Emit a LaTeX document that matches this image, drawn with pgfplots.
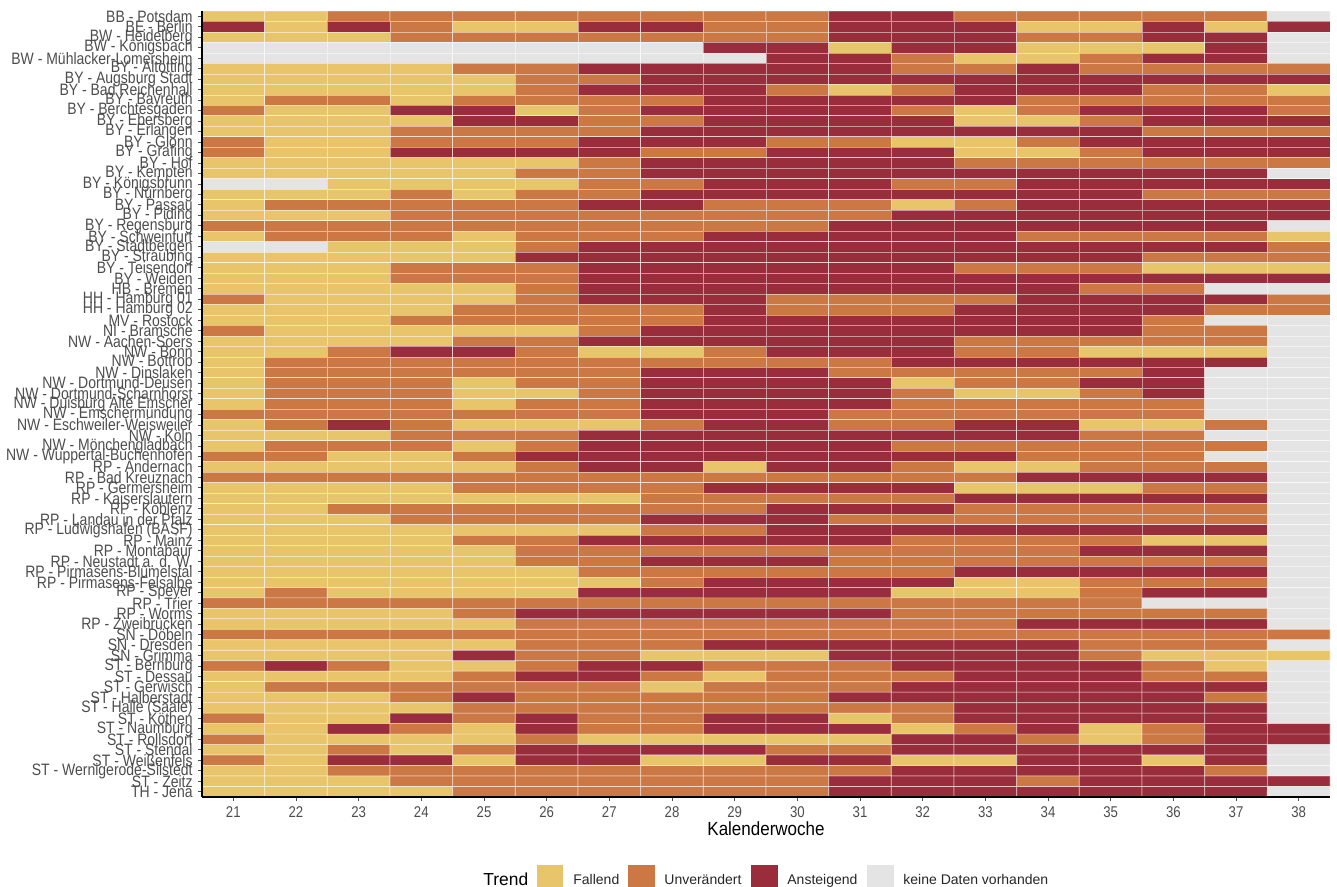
\documentclass[border=0pt]{standalone}
\usepackage{fontspec}
\setmainfont{Liberation Sans}
\usepackage{pgfplots}
\pgfplotsset{compat=1.18}

\definecolor{keine}{RGB}{228,228,228}
\definecolor{fallend}{RGB}{232,197,106}
\definecolor{unveraendert}{RGB}{204,120,68}
\definecolor{ansteigend}{RGB}{154,45,60}
\definecolor{ticktext}{RGB}{77,77,77}

\begin{document}
\begin{tikzpicture}[x=1pt,y=1pt]
\useasboundingbox (-101,-45) rectangle (567.5,398.5);
\begin{axis}[
	at={(0,0)},anchor=south west,
	scale only axis,width=564pt,height=393pt,
	xmin=20.5,xmax=38.5,ymin=0.5,ymax=75.5,
	y dir=reverse,
	axis x line*=bottom,axis y line*=left,
	axis line style={-,black,line width=0.7pt},
	axis on top,
	tick align=outside,major tick length=2pt,
	tick style={ticktext,line width=0.4pt},
	xtick={21,22,...,38},
	ytick={1,2,...,75},
	/pgf/number format/assume math mode=true,
	tick label style={font=\fontsize{6.6}{6.6}\selectfont,text=ticktext},
	yticklabel style={font=\fontsize{7}{7}\selectfont,text=ticktext,inner sep=0pt,xshift=-2.5pt,yscale=1.18,transform shape},
	xticklabel style={inner sep=0pt,yshift=-2.5pt,yscale=1.18,transform shape},
	xlabel={Kalenderwoche},
	xlabel style={font=\fontsize{8.5}{8.5}\selectfont,at={(axis description cs:0.5,0)},anchor=center,yshift=-16pt,yscale=1.12,transform shape},
	yticklabels={BB - Potsdam,BE - Berlin,BW - Heidelberg,BW - Königsbach,BW - Mühlacker-Lomersheim,BY - Altötting,BY - Augsburg Stadt,BY - Bad Reichenhall,BY - Bayreuth,BY - Berchtesgaden,BY - Ebersberg,BY - Erlangen,BY - Glonn,BY - Grafing,BY - Hof,BY - Kempten,BY - Königsbrunn,BY - Nürnberg,BY - Passau,BY - Piding,BY - Regensburg,BY - Schweinfurt,BY - Stadtbergen,BY - Straubing,BY - Teisendorf,BY - Weiden,HB - Bremen,HH - Hamburg 01,HH - Hamburg 02,MV - Rostock,NI - Bramsche,NW - Aachen-Soers,NW - Bonn,NW - Bottrop,NW - Dinslaken,NW - Dortmund-Deusen,NW - Dortmund-Scharnhorst,NW - Duisburg Alte Emscher,NW - Emschermündung,NW - Eschweiler-Weisweiler,NW - Köln,NW - Mönchengladbach,NW - Wuppertal-Buchenhofen,RP - Andernach,RP - Bad Kreuznach,RP - Germersheim,RP - Kaiserslautern,RP - Koblenz,RP - Landau in der Pfalz,RP - Ludwigshafen (BASF),RP - Mainz,RP - Montabaur,RP - Neustadt a. d. W.,RP - Pirmasens-Blümelstal,RP - Pirmasens-Felsalbe,RP - Speyer,RP - Trier,RP - Worms,RP - Zweibrücken,SN - Döbeln,SN - Dresden,SN - Grimma,ST - Bernburg,ST - Dessau,ST - Gerwisch,ST - Halberstadt,ST - Halle (Saale),ST - Köthen,ST - Naumburg,ST - Rollsdorf,ST - Stendal,ST - Weißenfels,ST - Wernigerode-Silstedt,ST - Zeitz,TH - Jena},
	colormap={trend}{color=(keine) color=(fallend) color=(unveraendert) color=(ansteigend)},
	colormap access=direct,
]
% 0 keine Daten, 1 fallend, 2 unveraendert, 3 ansteigend; one line per station, KW 21 to 38
\addplot[matrix plot*,mesh/cols=18,point meta=explicit,draw=white,draw opacity=0.5,line width=0.35pt]
table[x expr={21+mod(\coordindex,18)},y expr={1+floor((\coordindex+0.5)/18)},meta index=0,header=false,row sep=\\] {
1\\1\\2\\2\\2\\2\\2\\2\\2\\2\\3\\3\\2\\2\\2\\2\\2\\0\\
3\\1\\3\\2\\1\\1\\3\\3\\2\\2\\3\\3\\3\\1\\1\\3\\1\\3\\
1\\1\\1\\2\\2\\2\\2\\2\\2\\2\\3\\3\\3\\2\\2\\3\\3\\0\\
0\\0\\0\\0\\0\\0\\0\\0\\3\\3\\1\\3\\3\\1\\1\\1\\3\\0\\
0\\0\\0\\0\\0\\0\\0\\0\\0\\3\\3\\2\\1\\1\\2\\3\\3\\0\\
1\\1\\1\\1\\2\\2\\3\\3\\3\\3\\3\\2\\2\\3\\2\\2\\2\\2\\
1\\1\\1\\1\\1\\2\\2\\3\\3\\3\\3\\3\\3\\3\\3\\3\\3\\3\\
1\\1\\1\\1\\1\\2\\3\\3\\3\\2\\1\\2\\3\\3\\3\\2\\2\\1\\
1\\2\\2\\1\\2\\2\\2\\2\\3\\3\\3\\3\\3\\2\\2\\2\\2\\2\\
2\\1\\1\\3\\3\\1\\2\\3\\3\\3\\3\\2\\1\\2\\3\\3\\3\\2\\
1\\1\\1\\1\\3\\3\\2\\2\\3\\3\\3\\3\\1\\1\\2\\3\\3\\3\\
1\\1\\1\\2\\2\\2\\2\\3\\3\\3\\3\\3\\3\\3\\3\\2\\2\\2\\
2\\1\\1\\2\\2\\2\\3\\3\\3\\2\\2\\1\\1\\2\\3\\3\\3\\3\\
2\\1\\1\\3\\3\\3\\3\\2\\2\\3\\3\\3\\1\\1\\2\\3\\3\\3\\
1\\1\\1\\1\\1\\1\\2\\3\\3\\3\\3\\3\\2\\2\\2\\2\\2\\2\\
1\\1\\1\\1\\1\\2\\2\\3\\3\\3\\3\\3\\3\\3\\3\\3\\3\\0\\
0\\0\\1\\1\\1\\1\\2\\2\\3\\3\\3\\2\\2\\3\\3\\3\\3\\3\\
1\\1\\1\\2\\1\\2\\2\\3\\3\\3\\3\\3\\3\\3\\3\\2\\2\\2\\
1\\2\\2\\2\\2\\2\\3\\3\\2\\2\\2\\1\\2\\3\\3\\3\\3\\3\\
1\\1\\1\\2\\2\\2\\2\\2\\2\\2\\2\\3\\3\\3\\3\\3\\3\\3\\
2\\2\\2\\2\\2\\2\\2\\2\\2\\2\\3\\3\\3\\3\\3\\3\\3\\0\\
1\\2\\2\\2\\1\\2\\2\\2\\3\\3\\3\\3\\3\\2\\2\\2\\2\\1\\
0\\0\\1\\1\\1\\2\\3\\3\\3\\3\\3\\3\\3\\3\\3\\3\\3\\2\\
1\\1\\1\\1\\1\\3\\3\\3\\3\\3\\3\\3\\3\\3\\3\\2\\2\\2\\
1\\1\\1\\2\\2\\2\\3\\3\\3\\3\\3\\3\\2\\2\\2\\1\\1\\1\\
1\\1\\1\\2\\2\\2\\3\\3\\3\\3\\3\\3\\3\\3\\3\\3\\3\\3\\
1\\1\\1\\1\\1\\2\\3\\3\\3\\3\\3\\3\\3\\3\\2\\2\\0\\0\\
2\\1\\1\\1\\1\\2\\3\\3\\3\\2\\2\\2\\2\\3\\3\\3\\3\\2\\
1\\1\\1\\1\\2\\2\\2\\2\\3\\2\\2\\2\\3\\3\\3\\3\\2\\2\\
1\\1\\1\\2\\2\\2\\2\\2\\3\\3\\3\\3\\3\\3\\3\\2\\0\\0\\
2\\1\\1\\1\\1\\1\\2\\3\\3\\3\\3\\3\\3\\3\\3\\2\\2\\0\\
1\\1\\1\\1\\2\\2\\3\\3\\3\\3\\3\\3\\2\\2\\2\\2\\2\\0\\
1\\1\\2\\3\\3\\2\\1\\1\\2\\3\\3\\3\\2\\2\\1\\1\\1\\0\\
1\\2\\2\\2\\2\\2\\2\\2\\2\\2\\2\\3\\3\\3\\3\\3\\3\\0\\
1\\2\\2\\2\\2\\2\\2\\3\\3\\3\\2\\2\\2\\2\\2\\3\\0\\0\\
1\\2\\2\\2\\1\\2\\2\\3\\3\\3\\3\\1\\2\\2\\3\\3\\0\\0\\
1\\2\\2\\2\\1\\1\\2\\3\\3\\3\\3\\2\\1\\1\\2\\3\\0\\0\\
1\\2\\2\\2\\1\\2\\2\\3\\3\\3\\3\\2\\2\\2\\2\\2\\0\\0\\
2\\2\\2\\2\\2\\2\\2\\3\\3\\3\\2\\2\\2\\2\\2\\2\\0\\0\\
1\\2\\3\\2\\1\\1\\1\\2\\3\\3\\2\\2\\3\\3\\1\\1\\2\\0\\
1\\1\\1\\2\\2\\2\\3\\3\\3\\3\\3\\3\\3\\3\\2\\2\\0\\0\\
1\\2\\2\\2\\1\\2\\3\\3\\3\\3\\3\\2\\2\\2\\2\\2\\2\\0\\
2\\2\\1\\1\\2\\3\\3\\3\\3\\3\\3\\3\\3\\2\\2\\2\\0\\0\\
1\\1\\1\\1\\1\\2\\3\\3\\1\\3\\3\\2\\1\\1\\2\\2\\2\\0\\
2\\2\\2\\2\\2\\2\\2\\2\\2\\2\\2\\2\\2\\3\\3\\3\\3\\0\\
1\\1\\1\\1\\2\\2\\2\\2\\3\\3\\3\\3\\1\\1\\1\\2\\2\\0\\
1\\1\\1\\1\\1\\1\\1\\2\\2\\2\\2\\2\\3\\3\\3\\3\\3\\0\\
1\\1\\2\\2\\2\\2\\2\\2\\2\\3\\3\\3\\2\\2\\2\\2\\2\\0\\
1\\1\\1\\2\\2\\2\\2\\3\\3\\3\\2\\2\\2\\2\\2\\2\\2\\0\\
1\\1\\1\\1\\1\\1\\1\\2\\2\\3\\3\\3\\3\\3\\3\\3\\3\\0\\
1\\1\\1\\1\\2\\2\\3\\3\\3\\3\\3\\2\\2\\2\\2\\1\\1\\0\\
1\\1\\1\\1\\1\\2\\2\\2\\2\\2\\2\\2\\2\\2\\3\\3\\3\\0\\
1\\1\\1\\1\\1\\2\\2\\3\\3\\3\\2\\2\\2\\2\\2\\2\\2\\0\\
1\\1\\1\\1\\1\\1\\2\\2\\2\\2\\2\\2\\3\\3\\3\\3\\3\\0\\
1\\1\\1\\1\\1\\1\\1\\2\\3\\3\\3\\3\\1\\1\\2\\2\\2\\0\\
1\\2\\1\\1\\1\\1\\3\\3\\3\\3\\3\\1\\1\\1\\2\\3\\3\\0\\
2\\2\\2\\2\\2\\2\\2\\2\\2\\2\\2\\2\\2\\2\\2\\0\\0\\0\\
1\\1\\1\\1\\2\\3\\3\\3\\3\\3\\3\\2\\2\\2\\2\\2\\2\\0\\
1\\1\\1\\1\\1\\2\\2\\2\\2\\2\\2\\2\\2\\3\\3\\3\\3\\0\\
2\\2\\2\\2\\2\\2\\2\\2\\2\\2\\2\\2\\2\\2\\2\\2\\2\\2\\
1\\1\\1\\1\\1\\2\\2\\2\\3\\3\\3\\3\\3\\3\\2\\2\\2\\0\\
1\\1\\1\\1\\3\\2\\2\\1\\1\\1\\3\\3\\3\\3\\2\\1\\1\\1\\
2\\3\\2\\1\\1\\2\\3\\3\\2\\2\\2\\3\\3\\3\\3\\2\\1\\0\\
1\\1\\1\\1\\2\\3\\3\\2\\1\\2\\2\\2\\3\\3\\3\\2\\2\\0\\
1\\2\\2\\2\\2\\2\\2\\1\\2\\2\\2\\3\\3\\3\\3\\3\\3\\0\\
1\\1\\1\\2\\3\\2\\2\\2\\2\\2\\3\\3\\3\\3\\3\\3\\2\\0\\
1\\1\\1\\1\\2\\2\\2\\2\\2\\2\\2\\2\\3\\3\\3\\3\\3\\0\\
2\\1\\1\\3\\2\\3\\2\\2\\3\\3\\1\\2\\3\\3\\3\\3\\3\\0\\
1\\1\\3\\2\\1\\3\\2\\2\\3\\3\\3\\1\\2\\3\\1\\2\\3\\3\\
2\\1\\1\\1\\1\\2\\1\\1\\1\\1\\1\\3\\3\\2\\1\\2\\3\\3\\
1\\1\\2\\1\\2\\3\\3\\3\\3\\2\\2\\3\\3\\3\\3\\3\\3\\0\\
2\\1\\3\\3\\1\\3\\3\\1\\1\\3\\3\\1\\1\\3\\3\\1\\3\\0\\
1\\1\\2\\2\\2\\2\\2\\2\\2\\2\\2\\3\\3\\3\\3\\3\\2\\0\\
1\\1\\1\\2\\2\\2\\2\\2\\2\\2\\3\\3\\3\\2\\3\\3\\3\\3\\
1\\1\\1\\1\\2\\2\\2\\2\\2\\2\\3\\3\\3\\3\\3\\3\\3\\0\\
};
\end{axis}
% legend
\node[anchor=base west,inner sep=0pt,font=\fontsize{8.7}{8.7}\selectfont] at (140.5,-44.5) {Trend};
\fill[fallend] (167.5,-34) rectangle (180.5,-46);
\node[anchor=base west,inner sep=0pt,font=\fontsize{7}{7}\selectfont,text=black!85] at (185.5,-44) {Fallend};
\fill[unveraendert] (213,-34) rectangle (226.5,-46);
\node[anchor=base west,inner sep=0pt,font=\fontsize{7}{7}\selectfont,text=black!85] at (231,-44) {Unverändert};
\fill[ansteigend] (274.5,-34) rectangle (288,-46);
\node[anchor=base west,inner sep=0pt,font=\fontsize{7}{7}\selectfont,text=black!85] at (292.5,-44) {Ansteigend};
\fill[keine] (332.5,-34) rectangle (346,-46);
\node[anchor=base west,inner sep=0pt,font=\fontsize{7}{7}\selectfont,text=black!85] at (350.5,-44) {keine Daten vorhanden};
\end{tikzpicture}
\end{document}
